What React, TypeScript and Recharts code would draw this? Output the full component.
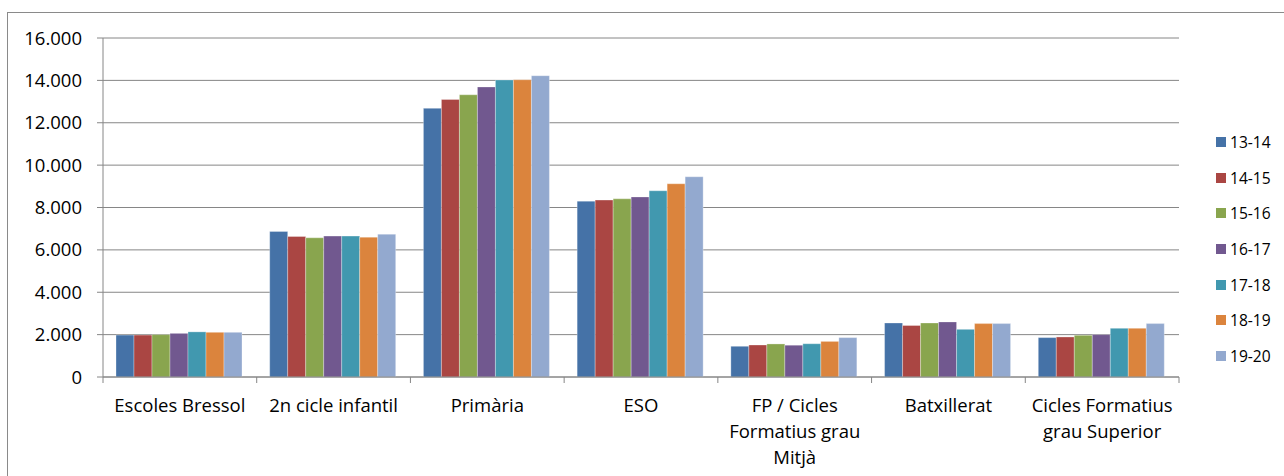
import { BarChart, Bar, XAxis, YAxis, CartesianGrid, Legend, Text } from 'recharts';

const categories = [
  'Escoles Bressol',
  '2n cicle infantil',
  'Primària',
  'ESO',
  'FP / Cicles Formatius grau Mitjà',
  'Batxillerat',
  'Cicles Formatius grau Superior',
];

const seriesNames = ['13-14', '14-15', '15-16', '16-17', '17-18', '18-19', '19-20'];

const s1314 = [1980, 6870, 12680, 8300, 1450, 2550, 1860];
const s1415 = [1980, 6630, 13100, 8350, 1510, 2430, 1890];
const s1516 = [2000, 6570, 13320, 8410, 1560, 2550, 1970];
const s1617 = [2060, 6650, 13690, 8500, 1500, 2600, 2000];
const s1718 = [2130, 6650, 14020, 8790, 1570, 2250, 2300];
const s1819 = [2110, 6600, 14030, 9120, 1680, 2520, 2300];
const s1920 = [2110, 6740, 14220, 9450, 1860, 2520, 2520];

const yTicks = [0, 2000, 4000, 6000, 8000, 10000, 12000, 14000, 16000];

const colors = ['#4572A7', '#AA4643', '#89A54E', '#71588F', '#4198AF', '#DB843D', '#93A9CF'];

const allSeries = [s1314, s1415, s1516, s1617, s1718, s1819, s1920];

const data = categories.map((name, i) => {
  const row: Record<string, string | number> = { name };
  seriesNames.forEach((s, j) => {
    row[s] = allSeries[j][i];
  });
  return row;
});

const FONT = '"Open Sans", sans-serif';
const GRAY = '#868686';

const fmt = (v: number) => String(v).replace(/\B(?=(\d{3})+(?!\d))/g, '.');

function CategoryTick(props: any) {
  const { x, y, payload, index, visibleTicksCount } = props;
  const half = payload?.offset ?? 76.9;
  return (
    <g>
      <line x1={x - half} x2={x - half} y1={y} y2={y + 6} stroke={GRAY} />
      {index === (visibleTicksCount ?? 7) - 1 && (
        <line x1={x + half} x2={x + half} y1={y} y2={y + 6} stroke={GRAY} />
      )}
      <Text
        x={x}
        y={y + 22}
        width={150}
        textAnchor="middle"
        verticalAnchor="start"
        lineHeight={26}
        style={{ fontSize: 18.5, fontFamily: FONT }}
        fill="#000"
      >
        {payload.value}
      </Text>
    </g>
  );
}

function LegendList(props: any) {
  const items = props.payload ?? [];
  return (
    <div style={{ fontFamily: FONT, fontSize: 15.6, color: '#000' }}>
      {items.map((it: any) => (
        <div key={it.value} style={{ height: 35.7, display: 'flex', alignItems: 'center' }}>
          <span style={{ width: 10, height: 10, background: it.color, marginRight: 4, display: 'inline-block' }} />
          <span>{it.value}</span>
        </div>
      ))}
    </div>
  );
}

export default function App() {
  return (
    <div
      style={{
        position: 'fixed',
        left: 0,
        top: 0,
        width: 1284,
        height: 476,
        overflow: 'hidden',
        background: '#fff',
      }}
    >
      <div
        style={{
          position: 'absolute',
          left: 7,
          top: 12,
          width: 1400,
          height: 600,
          border: '1px solid #8a8a8a',
        }}
      />
      <div style={{ position: 'absolute', left: 0, top: 0 }}>
        <BarChart
          width={1284}
          height={476}
          data={data}
          margin={{ top: 38, right: 45, bottom: 69, left: 0 }}
          barCategoryGap={13}
          barGap={0}
        >
          <CartesianGrid vertical={false} stroke={GRAY} strokeWidth={1} />
          <XAxis
            dataKey="name"
            interval={0}
            height={30}
            tickLine={false}
            tickSize={0}
            tickMargin={0}
            axisLine={{ stroke: GRAY }}
            tick={<CategoryTick />}
          />
          <YAxis
            width={103}
            domain={[0, 16000]}
            ticks={yTicks}
            interval={0}
            tickFormatter={fmt}
            tickSize={6}
            tickMargin={15}
            tickLine={{ stroke: GRAY }}
            axisLine={{ stroke: GRAY }}
            tick={{ fill: '#000', fontSize: 18.5, fontFamily: FONT }}
          />
          <Legend
            layout="vertical"
            align="right"
            verticalAlign="middle"
            content={<LegendList />}
            wrapperStyle={{ left: 1216, top: 124, width: 60 }}
          />
          {seriesNames.map((s, j) => (
            <Bar
              key={s}
              dataKey={s}
              name={s}
              fill={colors[j]}
              stroke="rgba(255,255,255,0.3)"
              strokeWidth={1}
              isAnimationActive={false}
            />
          ))}
        </BarChart>
      </div>
    </div>
  );
}
